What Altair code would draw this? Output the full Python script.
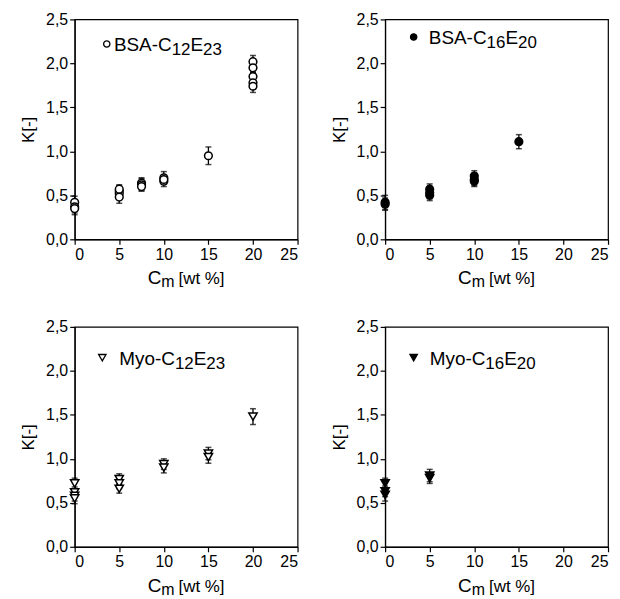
import altair as alt
import pandas as pd

# Panel 1: BSA-C12E23 (open circles)
a_x = [0, 0, 0, 5, 5, 5, 5, 7.5, 7.5, 7.5, 10, 10, 10, 15, 20, 20, 20, 20, 20]
a_y = [0.42, 0.37, 0.35, 0.55, 0.52, 0.48, 0.57, 0.64, 0.62, 0.60, 0.70, 0.66, 0.68, 0.95, 2.02, 1.95, 1.85, 1.78, 1.74]
a_e = [0.07, 0.07, 0.07, 0.06, 0.06, 0.07, 0.05, 0.06, 0.07, 0.05, 0.07, 0.06, 0.05, 0.10, 0.07, 0.05, 0.05, 0.05, 0.07]

# Panel 2: BSA-C16E20 (filled circles)
b_x = [0, 0, 5, 5, 5, 10, 10, 10, 15]
b_y = [0.42, 0.40, 0.57, 0.53, 0.50, 0.72, 0.68, 0.66, 1.11]
b_e = [0.08, 0.07, 0.06, 0.07, 0.06, 0.06, 0.07, 0.06, 0.08]

# Panel 3: Myo-C12E23 (open down triangles)
c_x = [0, 0, 0, 0, 5, 5, 5, 10, 10, 15, 15, 20]
c_y = [0.72, 0.62, 0.58, 0.55, 0.77, 0.72, 0.66, 0.94, 0.90, 1.06, 1.02, 1.48]
c_e = [0.06, 0.06, 0.06, 0.06, 0.06, 0.06, 0.05, 0.06, 0.06, 0.07, 0.07, 0.09]

# Panel 4: Myo-C16E20 (filled down triangles)
d_x = [0, 0, 0, 5, 5]
d_y = [0.72, 0.63, 0.59, 0.81, 0.78]
d_e = [0.06, 0.06, 0.07, 0.07, 0.06]

# legend labels as (main, sub, main, sub) pieces
labels = [["BSA-C", "12", "E", "23"], ["BSA-C", "16", "E", "20"],
          ["Myo-C", "12", "E", "23"], ["Myo-C", "16", "E", "20"]]
legend_mx = [3.6, 3.2, 3.1, 3.2]
legend_my = [2.22, 2.30, 2.15, 2.15]
legend_tx = [4.4, 4.9, 5.0, 5.0]

x_ticks = [0, 5, 10, 15, 20, 25]
y_ticks = [0, 0.5, 1.0, 1.5, 2.0, 2.5]

FONT = "Liberation Sans"
W, H = 224, 221

# Arial advance widths (per em) used to place text pieces side by side
ADV = {'B': .667, 'S': .667, 'A': .667, '-': .333, 'C': .722, 'E': .667, 'M': .833,
       'y': .5, 'o': .556, 'm': .833, ' ': .278, '[': .278, ']': .278, 'w': .722,
       't': .278, '%': .889}
for d in "0123456789":
    ADV[d] = .556


def tw(s, size):
    return sum(ADV.get(ch, .556) for ch in s) * size


def rich(pieces, x_enc, y_enc, align_center=False):
    """pieces: list of (text, fontSize, dy, gap_after)."""
    total = sum(tw(t, s) + g for t, s, _, g in pieces)
    off = -total / 2 if align_center else 0
    out = []
    for t, s, dy, g in pieces:
        df = pd.DataFrame({"t": [t]})
        out.append(alt.Chart(df).mark_text(align="left", baseline="alphabetic", font=FONT,
                                           fontSize=s, dx=off, dy=dy, color="black")
                   .encode(x=x_enc, y=y_enc, text="t:N"))
        off += tw(t, s) + g
    return out


def panel(xs, ys, es, shape, filled, label, mx, my, tx):
    df = pd.DataFrame({"x": xs, "y": ys, "lo": [y - e for y, e in zip(ys, es)],
                       "hi": [y + e for y, e in zip(ys, es)]})
    xsc = alt.Scale(domain=[0, 25], nice=False, zero=False)
    ysc = alt.Scale(domain=[0, 2.5], nice=False)
    xax = alt.Axis(values=x_ticks, title=None, grid=False)
    yax = alt.Axis(values=y_ticks, title="K[-]", grid=False,
                   labelExpr="replace(format(datum.value, '.1f'), '.', ',')")
    base = alt.Chart(df)
    rule = base.mark_rule(color="black", strokeWidth=1.3).encode(
        x=alt.X("x:Q", scale=xsc, axis=xax), y=alt.Y("lo:Q", scale=ysc, axis=yax), y2="hi:Q")
    cap_lo = base.mark_tick(color="black", orient="horizontal", size=6, thickness=1.5).encode(
        x="x:Q", y="lo:Q")
    cap_hi = base.mark_tick(color="black", orient="horizontal", size=6, thickness=1.5).encode(
        x="x:Q", y="hi:Q")
    pts = base.mark_point(shape=shape, filled=True, size=60 if shape == "circle" else 70,
                          fill="black" if filled else "white", stroke="black",
                          strokeWidth=1.5, opacity=1).encode(x="x:Q", y="y:Q")
    ldf = pd.DataFrame({"x": [mx], "y": [my], "tx": [tx]})
    lm = alt.Chart(ldf).mark_point(shape=shape, filled=True, size=40 if shape == "circle" else 55,
                                   fill="black" if filled else "white", stroke="black",
                                   strokeWidth=1.3, opacity=1).encode(x="x:Q", y="y:Q")
    leg = rich([(label[0], 19, 7, 0), (label[1], 17, 11, 0), (label[2], 19, 7, 0),
                (label[3], 17, 11, 0)], alt.datum(tx), alt.datum(my))
    xt = rich([("C", 19, 0, 0), ("m", 16, 3, 4), ("[wt %]", 17, 0, 0)],
              alt.value(W / 2), alt.value(H + 45), align_center=True)
    return alt.layer(rule, cap_lo, cap_hi, pts, lm, *leg, *xt).properties(width=W, height=H)


p1 = panel(a_x, a_y, a_e, "circle", False, labels[0], legend_mx[0], legend_my[0], legend_tx[0])
p2 = panel(b_x, b_y, b_e, "circle", True, labels[1], legend_mx[1], legend_my[1], legend_tx[1])
p3 = panel(c_x, c_y, c_e, "triangle-down", False, labels[2], legend_mx[2], legend_my[2], legend_tx[2])
p4 = panel(d_x, d_y, d_e, "triangle-down", True, labels[3], legend_mx[3], legend_my[3], legend_tx[3])

chart = alt.vconcat(
    alt.hconcat(p1, p2, spacing=30),
    alt.hconcat(p3, p4, spacing=30),
    spacing=27,
).configure(
    background="white", padding={"left": 11, "top": 1, "right": 2, "bottom": 0}
).configure_view(stroke="black", strokeWidth=1.2).configure_axis(
    domainColor="black", domainWidth=1.2, tickColor="black", tickSize=5, tickWidth=1.2,
    labelFont=FONT, labelFontSize=16, labelColor="black", labelPadding=2,
    titleFont=FONT, titleFontSize=17, titleFontWeight="normal", titleColor="black",
    titlePadding=8,
)

chart.save("out.html", embed_options={"renderer": "svg", "actions": False})
